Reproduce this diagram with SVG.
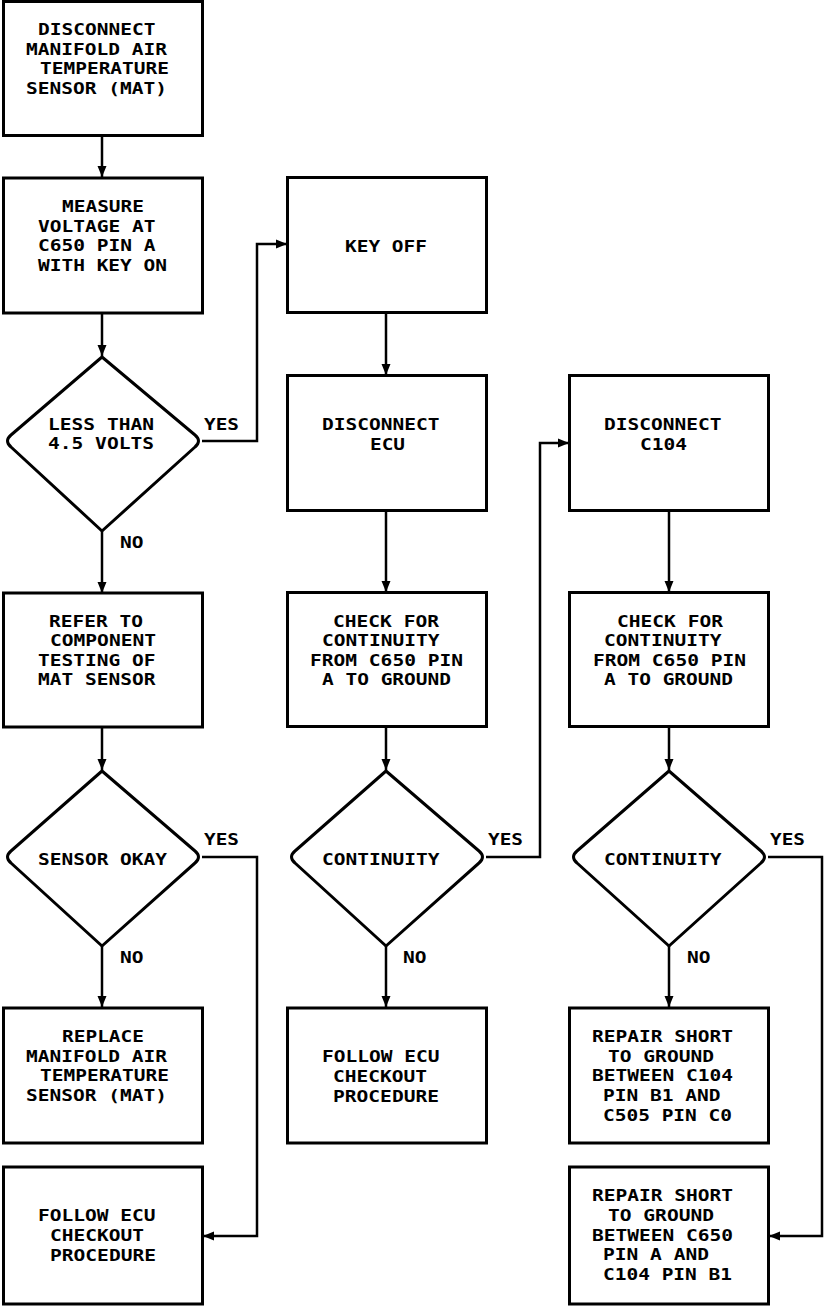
<svg xmlns="http://www.w3.org/2000/svg" width="832" height="1306" viewBox="0 0 832 1306">
<defs>
<style>
.box{fill:#fff;stroke:#000;stroke-width:3}
.dia{fill:#fff;stroke:#000;stroke-width:3;stroke-linejoin:round}
.t{font-family:"DejaVu Sans Mono","Liberation Mono",monospace;font-size:16.5px;fill:#000;font-weight:bold}
.c{fill:none;stroke:#000;stroke-width:2.5}
</style>
<marker id="ah" markerUnits="userSpaceOnUse" markerWidth="12" markerHeight="12" viewBox="0 0 12 12" refX="11" refY="6" orient="auto">
<path d="M0,1.5 L11,6 L0,10.5 Z" fill="#000"/>
</marker>
</defs>
<rect width="832" height="1306" fill="#fff"/>

<g id="connectors">
<line class="c" x1="102" y1="136" x2="102" y2="177" marker-end="url(#ah)"/>
<line class="c" x1="102" y1="313" x2="102" y2="356" marker-end="url(#ah)"/>
<line class="c" x1="102" y1="531" x2="102" y2="593" marker-end="url(#ah)"/>
<line class="c" x1="102" y1="727" x2="102" y2="770" marker-end="url(#ah)"/>
<line class="c" x1="102" y1="946" x2="102" y2="1007" marker-end="url(#ah)"/>
<polyline class="c" points="202,441 257,441 257,244 287,244" marker-end="url(#ah)"/>
<polyline class="c" points="202,857 257,857 257,1236 203,1236" marker-end="url(#ah)"/>
<line class="c" x1="386" y1="313" x2="386" y2="375" marker-end="url(#ah)"/>
<line class="c" x1="386" y1="511" x2="386" y2="592" marker-end="url(#ah)"/>
<line class="c" x1="386" y1="727" x2="386" y2="770" marker-end="url(#ah)"/>
<line class="c" x1="386" y1="946" x2="386" y2="1007" marker-end="url(#ah)"/>
<polyline class="c" points="486,857 540,857 540,443 569,443" marker-end="url(#ah)"/>
<line class="c" x1="669" y1="511" x2="669" y2="592" marker-end="url(#ah)"/>
<line class="c" x1="669" y1="727" x2="669" y2="770" marker-end="url(#ah)"/>
<line class="c" x1="669" y1="946" x2="669" y2="1007" marker-end="url(#ah)"/>
<polyline class="c" points="768,857 822,857 822,1236 769,1236" marker-end="url(#ah)"/>
<text class="t" x="204" y="430" textLength="35" lengthAdjust="spacingAndGlyphs">YES</text>
<text class="t" x="120" y="548" textLength="23.5" lengthAdjust="spacingAndGlyphs">NO</text>
<text class="t" x="204" y="845" textLength="35" lengthAdjust="spacingAndGlyphs">YES</text>
<text class="t" x="120" y="963" textLength="23.5" lengthAdjust="spacingAndGlyphs">NO</text>
<text class="t" x="488" y="845" textLength="35" lengthAdjust="spacingAndGlyphs">YES</text>
<text class="t" x="403" y="963" textLength="23.5" lengthAdjust="spacingAndGlyphs">NO</text>
<text class="t" x="770" y="845" textLength="35" lengthAdjust="spacingAndGlyphs">YES</text>
<text class="t" x="687" y="963" textLength="23.5" lengthAdjust="spacingAndGlyphs">NO</text>
</g>

<g id="n1">
<rect class="box" x="3.5" y="1.5" width="199" height="134"/>
<text class="t" x="38" y="35" textLength="117.5" lengthAdjust="spacingAndGlyphs">DISCONNECT</text>
<text class="t" x="26" y="55" textLength="141" lengthAdjust="spacingAndGlyphs">MANIFOLD AIR</text>
<text class="t" x="40" y="74" textLength="129" lengthAdjust="spacingAndGlyphs">TEMPERATURE</text>
<text class="t" x="26" y="94" textLength="141" lengthAdjust="spacingAndGlyphs">SENSOR (MAT)</text>
</g>
<g id="n2">
<rect class="box" x="3.5" y="178" width="199" height="135"/>
<text class="t" x="62" y="212" textLength="82" lengthAdjust="spacingAndGlyphs">MEASURE</text>
<text class="t" x="38" y="232" textLength="117.5" lengthAdjust="spacingAndGlyphs">VOLTAGE AT</text>
<text class="t" x="38" y="251" textLength="117.5" lengthAdjust="spacingAndGlyphs">C650 PIN A</text>
<text class="t" x="38" y="271" textLength="129" lengthAdjust="spacingAndGlyphs">WITH KEY ON</text>
</g>
<g id="d1">
<path class="dia" d="M102,357 L195,435 Q202,441 195,447 L102,531 L11,447 Q4,441 11,435 Z"/>
<text class="t" x="48" y="430" textLength="106" lengthAdjust="spacingAndGlyphs">LESS THAN</text>
<text class="t" x="48" y="449" textLength="106" lengthAdjust="spacingAndGlyphs">4.5 VOLTS</text>
</g>
<g id="n3">
<rect class="box" x="3.5" y="593" width="199" height="134"/>
<text class="t" x="49" y="627" textLength="94" lengthAdjust="spacingAndGlyphs">REFER TO</text>
<text class="t" x="50" y="646" textLength="106" lengthAdjust="spacingAndGlyphs">COMPONENT</text>
<text class="t" x="38" y="666" textLength="117.5" lengthAdjust="spacingAndGlyphs">TESTING OF</text>
<text class="t" x="38" y="685" textLength="117.5" lengthAdjust="spacingAndGlyphs">MAT SENSOR</text>
</g>
<g id="d2">
<path class="dia" d="M102,771 L195,851 Q202,857 195,863 L102,946 L11,863 Q4,857 11,851 Z"/>
<text class="t" x="38" y="865" textLength="129" lengthAdjust="spacingAndGlyphs">SENSOR OKAY</text>
</g>
<g id="n4">
<rect class="box" x="3.5" y="1008" width="199" height="135"/>
<text class="t" x="62" y="1042" textLength="82" lengthAdjust="spacingAndGlyphs">REPLACE</text>
<text class="t" x="26" y="1062" textLength="141" lengthAdjust="spacingAndGlyphs">MANIFOLD AIR</text>
<text class="t" x="40" y="1081" textLength="129" lengthAdjust="spacingAndGlyphs">TEMPERATURE</text>
<text class="t" x="26" y="1101" textLength="141" lengthAdjust="spacingAndGlyphs">SENSOR (MAT)</text>
</g>
<g id="n5">
<rect class="box" x="3.5" y="1167" width="199" height="137"/>
<text class="t" x="38" y="1221" textLength="117.5" lengthAdjust="spacingAndGlyphs">FOLLOW ECU</text>
<text class="t" x="50" y="1241" textLength="94" lengthAdjust="spacingAndGlyphs">CHECKOUT</text>
<text class="t" x="50" y="1261" textLength="106" lengthAdjust="spacingAndGlyphs">PROCEDURE</text>
</g>

<g id="n6">
<rect class="box" x="287.5" y="177.5" width="199" height="135"/>
<text class="t" x="345" y="252" textLength="82" lengthAdjust="spacingAndGlyphs">KEY OFF</text>
</g>
<g id="n7">
<rect class="box" x="287.5" y="375.5" width="199" height="135"/>
<text class="t" x="322" y="430" textLength="117.5" lengthAdjust="spacingAndGlyphs">DISCONNECT</text>
<text class="t" x="370" y="450" textLength="35" lengthAdjust="spacingAndGlyphs">ECU</text>
</g>
<g id="n8">
<rect class="box" x="287.5" y="592.5" width="199" height="134"/>
<text class="t" x="333" y="627" textLength="106" lengthAdjust="spacingAndGlyphs">CHECK FOR</text>
<text class="t" x="322" y="646" textLength="117.5" lengthAdjust="spacingAndGlyphs">CONTINUITY</text>
<text class="t" x="310" y="666" textLength="153" lengthAdjust="spacingAndGlyphs">FROM C650 PIN</text>
<text class="t" x="322" y="685" textLength="129" lengthAdjust="spacingAndGlyphs">A TO GROUND</text>
</g>
<g id="d3">
<path class="dia" d="M386,771 L479,851 Q486,857 479,863 L386,946 L295,863 Q288,857 295,851 Z"/>
<text class="t" x="322" y="865" textLength="117.5" lengthAdjust="spacingAndGlyphs">CONTINUITY</text>
</g>
<g id="n9">
<rect class="box" x="287.5" y="1008" width="199" height="135"/>
<text class="t" x="322" y="1062" textLength="117.5" lengthAdjust="spacingAndGlyphs">FOLLOW ECU</text>
<text class="t" x="333" y="1082" textLength="94" lengthAdjust="spacingAndGlyphs">CHECKOUT</text>
<text class="t" x="333" y="1102" textLength="106" lengthAdjust="spacingAndGlyphs">PROCEDURE</text>
</g>

<g id="n10">
<rect class="box" x="569.5" y="375.5" width="199" height="135"/>
<text class="t" x="604" y="430" textLength="117.5" lengthAdjust="spacingAndGlyphs">DISCONNECT</text>
<text class="t" x="640" y="450" textLength="47" lengthAdjust="spacingAndGlyphs">C104</text>
</g>
<g id="n11">
<rect class="box" x="569.5" y="592.5" width="199" height="134"/>
<text class="t" x="617" y="627" textLength="106" lengthAdjust="spacingAndGlyphs">CHECK FOR</text>
<text class="t" x="604" y="646" textLength="117.5" lengthAdjust="spacingAndGlyphs">CONTINUITY</text>
<text class="t" x="593" y="666" textLength="153" lengthAdjust="spacingAndGlyphs">FROM C650 PIN</text>
<text class="t" x="604" y="685" textLength="129" lengthAdjust="spacingAndGlyphs">A TO GROUND</text>
</g>
<g id="d4">
<path class="dia" d="M669,771 L761,851 Q768,857 761,863 L669,946 L577,863 Q570,857 577,851 Z"/>
<text class="t" x="604" y="865" textLength="117.5" lengthAdjust="spacingAndGlyphs">CONTINUITY</text>
</g>
<g id="n12">
<rect class="box" x="569.5" y="1008" width="199" height="135"/>
<text class="t" x="592" y="1042" textLength="141" lengthAdjust="spacingAndGlyphs">REPAIR SHORT</text>
<text class="t" x="608" y="1062" textLength="106" lengthAdjust="spacingAndGlyphs">TO GROUND</text>
<text class="t" x="592" y="1081" textLength="141" lengthAdjust="spacingAndGlyphs">BETWEEN C104</text>
<text class="t" x="603" y="1101" textLength="117.5" lengthAdjust="spacingAndGlyphs">PIN B1 AND</text>
<text class="t" x="603" y="1121" textLength="129" lengthAdjust="spacingAndGlyphs">C505 PIN C0</text>
</g>
<g id="n13">
<rect class="box" x="569.5" y="1167" width="199" height="137"/>
<text class="t" x="592" y="1201" textLength="141" lengthAdjust="spacingAndGlyphs">REPAIR SHORT</text>
<text class="t" x="608" y="1221" textLength="106" lengthAdjust="spacingAndGlyphs">TO GROUND</text>
<text class="t" x="592" y="1241" textLength="141" lengthAdjust="spacingAndGlyphs">BETWEEN C650</text>
<text class="t" x="603" y="1260" textLength="106" lengthAdjust="spacingAndGlyphs">PIN A AND</text>
<text class="t" x="603" y="1280" textLength="129" lengthAdjust="spacingAndGlyphs">C104 PIN B1</text>
</g>
</svg>
